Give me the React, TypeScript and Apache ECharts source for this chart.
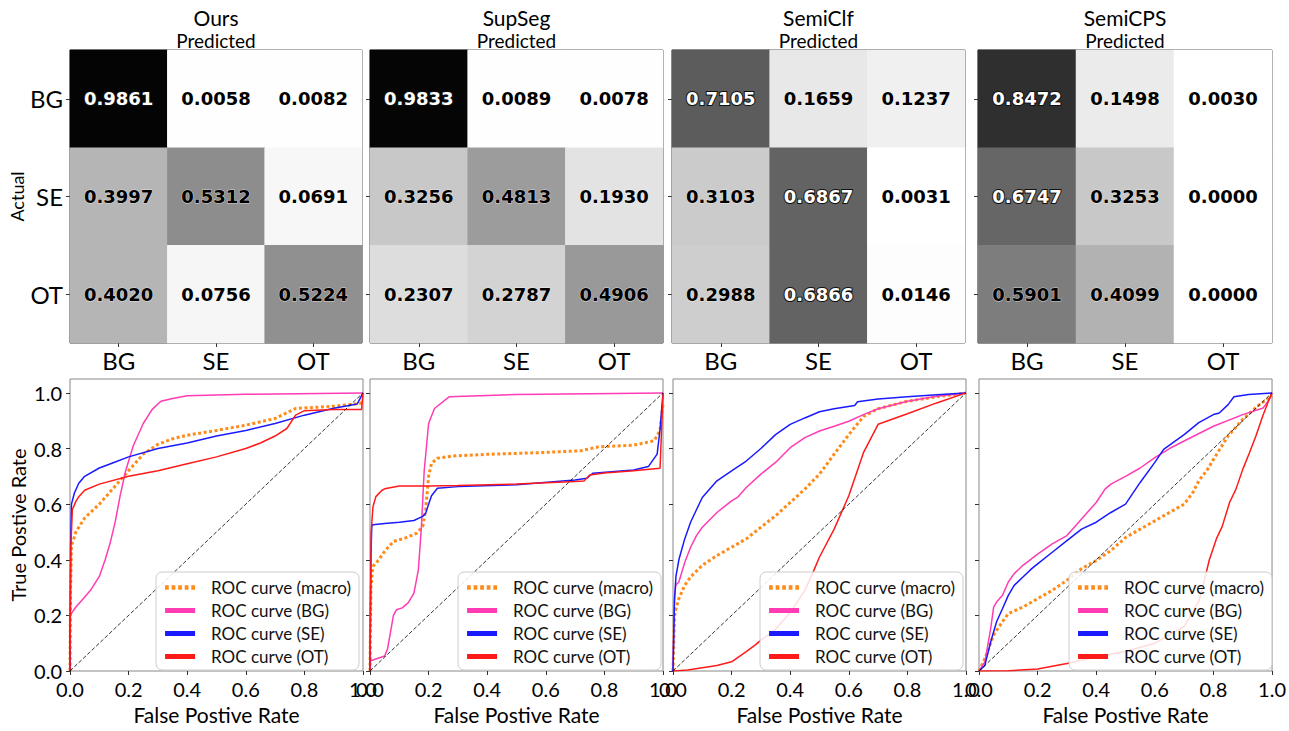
import React, { useEffect, useRef } from 'react';
import * as echarts from 'echarts';

const CLASSES = ['BG', 'SE', 'OT'];
const METHODS = ['Ours', 'SupSeg', 'SemiClf', 'SemiCPS'];

// Confusion matrices (rows: actual BG, SE, OT; columns: predicted BG, SE, OT)
const CM_OURS = [[0.9861, 0.0058, 0.0082], [0.3997, 0.5312, 0.0691], [0.4020, 0.0756, 0.5224]];
const CM_SUPSEG = [[0.9833, 0.0089, 0.0078], [0.3256, 0.4813, 0.1930], [0.2307, 0.2787, 0.4906]];
const CM_SEMICLF = [[0.7105, 0.1659, 0.1237], [0.3103, 0.6867, 0.0031], [0.2988, 0.6866, 0.0146]];
const CM_SEMICPS = [[0.8472, 0.1498, 0.0030], [0.6747, 0.3253, 0.0000], [0.5901, 0.4099, 0.0000]];

const ROC_NAMES = ['ROC curve (macro)', 'ROC curve (BG)', 'ROC curve (SE)', 'ROC curve (OT)'];
const Y_TICKS = [0, 0.2, 0.4, 0.6, 0.8, 1.0];

// ROC curves: [FPR, TPR]
const OURS_MACRO = [[0, 0], [0.002, 0.3], [0.005, 0.45], [0.02, 0.5], [0.05, 0.55], [0.1, 0.6], [0.15, 0.66], [0.2, 0.72], [0.25, 0.78], [0.3, 0.815], [0.35, 0.835], [0.4, 0.848], [0.5, 0.865], [0.6, 0.884], [0.7, 0.908], [0.77, 0.944], [0.9, 0.952], [0.99, 0.962], [1, 0.97]];
const OURS_BG = [[0, 0], [0, 0.2], [0.02, 0.23], [0.045, 0.26], [0.07, 0.29], [0.1, 0.34], [0.12, 0.4], [0.137, 0.46], [0.155, 0.54], [0.171, 0.63], [0.19, 0.72], [0.216, 0.81], [0.25, 0.89], [0.28, 0.94], [0.31, 0.97], [0.35, 0.98], [0.4, 0.99], [0.6, 0.995], [1, 1]];
const OURS_SE = [[0, 0], [0.002, 0.45], [0.005, 0.6], [0.015, 0.64], [0.03, 0.675], [0.05, 0.7], [0.1, 0.73], [0.15, 0.75], [0.2, 0.77], [0.3, 0.8], [0.4, 0.82], [0.5, 0.845], [0.6, 0.865], [0.7, 0.89], [0.8, 0.92], [0.9, 0.945], [0.98, 0.96], [1, 1]];
const OURS_OT = [[0, 0], [0.003, 0.45], [0.008, 0.58], [0.02, 0.61], [0.03, 0.627], [0.05, 0.65], [0.1, 0.672], [0.2, 0.7], [0.3, 0.72], [0.4, 0.745], [0.5, 0.77], [0.6, 0.8], [0.65, 0.82], [0.7, 0.845], [0.74, 0.872], [0.77, 0.92], [0.8, 0.936], [0.9, 0.94], [0.995, 0.94], [1, 1]];

const SUPSEG_MACRO = [[0, 0], [0.003, 0.3], [0.01, 0.376], [0.03, 0.4], [0.05, 0.43], [0.08, 0.466], [0.12, 0.478], [0.16, 0.496], [0.18, 0.52], [0.19, 0.58], [0.2, 0.7], [0.21, 0.747], [0.23, 0.765], [0.28, 0.773], [0.4, 0.779], [0.6, 0.786], [0.72, 0.792], [0.78, 0.806], [0.9, 0.812], [0.97, 0.828], [0.99, 0.866], [1, 0.96]];
const SUPSEG_BG = [[0, 0], [0, 0.036], [0.05, 0.054], [0.06, 0.08], [0.07, 0.14], [0.08, 0.2], [0.09, 0.22], [0.11, 0.227], [0.13, 0.245], [0.15, 0.28], [0.165, 0.364], [0.175, 0.51], [0.185, 0.72], [0.2, 0.89], [0.22, 0.944], [0.27, 0.986], [0.5, 0.994], [1, 1]];
const SUPSEG_SE = [[0, 0], [0.003, 0.4], [0.006, 0.52], [0.01, 0.526], [0.05, 0.53], [0.1, 0.535], [0.15, 0.541], [0.18, 0.556], [0.19, 0.567], [0.2, 0.6], [0.21, 0.63], [0.23, 0.657], [0.3, 0.663], [0.5, 0.67], [0.7, 0.687], [0.74, 0.693], [0.76, 0.711], [0.9, 0.723], [0.95, 0.735], [0.98, 0.78], [0.99, 0.87], [1, 1]];
const SUPSEG_OT = [[0, 0], [0.004, 0.5], [0.01, 0.59], [0.02, 0.627], [0.04, 0.649], [0.05, 0.655], [0.1, 0.665], [0.2, 0.665], [0.3, 0.667], [0.5, 0.672], [0.7, 0.681], [0.73, 0.683], [0.75, 0.705], [0.8, 0.712], [0.9, 0.72], [0.99, 0.729], [1, 1]];

const SEMICLF_MACRO = [[0, 0], [0.005, 0.195], [0.01, 0.224], [0.02, 0.26], [0.04, 0.308], [0.06, 0.338], [0.1, 0.38], [0.15, 0.415], [0.2, 0.445], [0.25, 0.475], [0.3, 0.517], [0.35, 0.558], [0.4, 0.606], [0.45, 0.654], [0.5, 0.708], [0.55, 0.78], [0.6, 0.85], [0.65, 0.915], [0.7, 0.943], [0.8, 0.97], [0.9, 0.986], [1, 1]];
const SEMICLF_BG = [[0, 0], [0.005, 0.27], [0.01, 0.31], [0.02, 0.32], [0.04, 0.39], [0.06, 0.445], [0.08, 0.487], [0.1, 0.517], [0.15, 0.57], [0.2, 0.612], [0.22, 0.624], [0.25, 0.66], [0.3, 0.708], [0.35, 0.75], [0.4, 0.803], [0.45, 0.839], [0.5, 0.863], [0.55, 0.88], [0.6, 0.898], [0.65, 0.922], [0.7, 0.943], [0.8, 0.97], [0.9, 0.988], [1, 1]];
const SEMICLF_SE = [[0, 0], [0.005, 0.25], [0.01, 0.34], [0.02, 0.4], [0.04, 0.475], [0.06, 0.535], [0.08, 0.58], [0.1, 0.624], [0.15, 0.684], [0.2, 0.72], [0.25, 0.755], [0.3, 0.8], [0.35, 0.85], [0.4, 0.887], [0.45, 0.91], [0.5, 0.932], [0.55, 0.943], [0.62, 0.955], [0.63, 0.968], [0.7, 0.978], [0.8, 0.986], [0.9, 0.993], [1, 1]];
const SEMICLF_OT = [[0, 0], [0.05, 0.004], [0.1, 0.012], [0.15, 0.02], [0.2, 0.033], [0.25, 0.07], [0.28, 0.093], [0.3, 0.111], [0.35, 0.15], [0.4, 0.21], [0.45, 0.29], [0.48, 0.36], [0.5, 0.41], [0.55, 0.51], [0.6, 0.63], [0.65, 0.785], [0.7, 0.887], [0.8, 0.925], [0.9, 0.964], [1, 1]];

const SEMICPS_MACRO = [[0, 0], [0.02, 0.045], [0.05, 0.13], [0.08, 0.177], [0.1, 0.206], [0.15, 0.23], [0.2, 0.26], [0.25, 0.29], [0.3, 0.326], [0.35, 0.368], [0.4, 0.397], [0.45, 0.433], [0.5, 0.48], [0.55, 0.51], [0.6, 0.54], [0.65, 0.57], [0.7, 0.6], [0.73, 0.642], [0.75, 0.684], [0.78, 0.725], [0.8, 0.761], [0.85, 0.845], [0.9, 0.905], [0.95, 0.952], [1, 0.99]];
const SEMICPS_BG = [[0, 0], [0.02, 0.033], [0.04, 0.153], [0.05, 0.23], [0.06, 0.248], [0.08, 0.272], [0.1, 0.32], [0.12, 0.35], [0.15, 0.38], [0.2, 0.42], [0.25, 0.457], [0.3, 0.487], [0.35, 0.547], [0.4, 0.606], [0.43, 0.654], [0.45, 0.672], [0.5, 0.7], [0.55, 0.73], [0.6, 0.767], [0.65, 0.8], [0.7, 0.827], [0.8, 0.88], [0.9, 0.922], [0.97, 0.946], [0.99, 0.976], [1, 1]];
const SEMICPS_SE = [[0, 0], [0.02, 0.02], [0.04, 0.105], [0.06, 0.177], [0.08, 0.224], [0.1, 0.272], [0.12, 0.308], [0.15, 0.338], [0.18, 0.368], [0.2, 0.385], [0.25, 0.427], [0.3, 0.469], [0.35, 0.51], [0.4, 0.535], [0.45, 0.57], [0.5, 0.6], [0.55, 0.678], [0.6, 0.75], [0.63, 0.797], [0.7, 0.85], [0.75, 0.893], [0.8, 0.922], [0.82, 0.928], [0.85, 0.958], [0.87, 0.986], [0.92, 0.994], [1, 1]];
const SEMICPS_OT = [[0, 0], [0.1, 0.001], [0.2, 0.007], [0.3, 0.027], [0.4, 0.05], [0.5, 0.07], [0.6, 0.1], [0.7, 0.16], [0.75, 0.25], [0.77, 0.33], [0.786, 0.4], [0.81, 0.475], [0.83, 0.52], [0.855, 0.606], [0.877, 0.654], [0.9, 0.725], [0.923, 0.785], [0.945, 0.845], [0.968, 0.916], [0.99, 0.976], [1, 1]];

const MATRICES = [CM_OURS, CM_SUPSEG, CM_SEMICLF, CM_SEMICPS];
const CURVES = [
  [OURS_MACRO, OURS_BG, OURS_SE, OURS_OT],
  [SUPSEG_MACRO, SUPSEG_BG, SUPSEG_SE, SUPSEG_OT],
  [SEMICLF_MACRO, SEMICLF_BG, SEMICLF_SE, SEMICLF_OT],
  [SEMICPS_MACRO, SEMICPS_BG, SEMICPS_SE, SEMICPS_OT],
];
const DIAGONAL = [[0, 0], [1, 1]];

const FONT = 'Lato';
const GREYS = ['#ffffff', '#f0f0f0', '#d9d9d9', '#bdbdbd', '#969696', '#737373', '#525252', '#252525', '#000000'];
const CURVE_COLORS = ['#ff8c1a', '#ff3cb4', '#1a1aff', '#ff1a1a'];
const HM_GRIDS = [
  { left: 70, top: 50, width: 292, height: 293 },
  { left: 370, top: 50, width: 293, height: 293 },
  { left: 672, top: 50, width: 293, height: 293 },
  { left: 978, top: 50, width: 294, height: 293 },
];
const ROC_GRIDS = [
  { left: 70, top: 379, width: 293, height: 292 },
  { left: 370, top: 379, width: 293, height: 292 },
  { left: 673, top: 379, width: 293, height: 292 },
  { left: 979, top: 379, width: 294, height: 292 },
];
const LEGEND_RIGHT = [930, 628, 326, 17];
const DOTS_ICON = 'path://M0,0h4v5h-4zM7,0h4v5h-4zM14,0h4v5h-4zM21,0h4v5h-4zM28,0h4v5h-4z';

export default function App() {
  const ref = useRef<HTMLDivElement>(null);
  useEffect(() => {
    if (!ref.current) return;
    const chart = echarts.init(ref.current, null, { renderer: 'svg' });
    const grid: any[] = [];
    const xAxis: any[] = [];
    const yAxis: any[] = [];
    const series: any[] = [];
    const legend: any[] = [];
    const graphic: any[] = [];

    MATRICES.forEach((cm, i) => {
      const g = HM_GRIDS[i];
      grid.push({ ...g, show: true, borderColor: '#333', borderWidth: 1, backgroundColor: 'transparent' });
      xAxis.push({
        type: 'category', gridIndex: i, data: CLASSES, position: 'bottom',
        axisLine: { show: false },
        axisTick: { show: true, alignWithLabel: true, length: 4, lineStyle: { color: '#333' } },
        axisLabel: { fontSize: 24, fontFamily: FONT, color: '#000', margin: 5 },
        splitLine: { show: false },
      });
      yAxis.push({
        type: 'category', gridIndex: i, data: CLASSES, inverse: true,
        axisLine: { show: false },
        axisTick: { show: true, alignWithLabel: true, length: 4, lineStyle: { color: '#333' } },
        axisLabel: { show: i === 0, fontSize: 24, fontFamily: FONT, color: '#000', margin: 7 },
        splitLine: { show: false },
        name: i === 0 ? 'Actual' : '', nameLocation: 'middle', nameGap: 44,
        nameTextStyle: { fontSize: 18, fontFamily: FONT, color: '#000' },
      });
      const data = cm.flatMap((row, r) => row.map((v, c) => ({
        value: [c, r, v],
        label: v >= 0.6
          ? { color: '#fff', textBorderColor: '#111', textBorderWidth: 2 }
          : { color: '#000', textBorderColor: 'rgba(255,255,255,0.6)', textBorderWidth: 1 },
      })));
      series.push({
        type: 'heatmap', xAxisIndex: i, yAxisIndex: i, data,
        label: {
          show: true, fontFamily: 'DejaVu Sans', fontWeight: 'bold', fontSize: 18,
          formatter: (p: any) => p.value[2].toFixed(4),
        },
      });
      const cx = g.left + g.width / 2;
      graphic.push({ type: 'text', x: cx, y: 17, style: { text: METHODS[i], textAlign: 'center', textVerticalAlign: 'middle', fontSize: 21, fontFamily: FONT, fill: '#000' } });
      graphic.push({ type: 'text', x: cx, y: 40, style: { text: 'Predicted', textAlign: 'center', textVerticalAlign: 'middle', fontSize: 19, fontFamily: FONT, fill: '#000' } });
    });

    CURVES.forEach((curves, i) => {
      const gi = i + 4;
      grid.push({ ...ROC_GRIDS[i], show: true, borderColor: '#888', borderWidth: 1, backgroundColor: 'transparent' });
      xAxis.push({
        type: 'value', gridIndex: gi, min: 0, max: 1, interval: 0.2,
        axisLine: { show: false },
        axisTick: { show: true, length: 4, lineStyle: { color: '#333' } },
        axisLabel: { fontSize: 20, fontFamily: FONT, color: '#000', margin: 8, formatter: (v: number) => v.toFixed(1) },
        splitLine: { show: false },
        name: 'False Postive Rate', nameLocation: 'middle', nameGap: 33,
        nameTextStyle: { fontSize: 21, fontFamily: FONT, color: '#000' },
      });
      yAxis.push({
        type: 'value', gridIndex: gi, min: 0, max: 1.05,
        axisLine: { show: false },
        axisTick: { show: true, length: 4, customValues: Y_TICKS, lineStyle: { color: '#333' } },
        axisLabel: { show: i === 0, customValues: Y_TICKS, fontSize: 20, fontFamily: FONT, color: '#000', margin: 8, formatter: (v: number) => v.toFixed(1) },
        splitLine: { show: false },
        name: i === 0 ? 'True Postive Rate' : '', nameLocation: 'middle', nameGap: 42,
        nameTextStyle: { fontSize: 20, fontFamily: FONT, color: '#000' },
      });
      curves.forEach((pts, k) => {
        series.push({
          type: 'line', name: ROC_NAMES[k], xAxisIndex: gi, yAxisIndex: gi, data: pts,
          symbol: 'none', showSymbol: false, smooth: false, clip: true,
          color: CURVE_COLORS[k],
          lineStyle: k === 0
            ? { color: CURVE_COLORS[k], width: 3, type: [3, 2.5] }
            : { color: CURVE_COLORS[k], width: 1.5 },
          z: 2 + k * 0.1,
        });
      });
      series.push({
        type: 'line', name: 'chance', xAxisIndex: gi, yAxisIndex: gi, data: DIAGONAL,
        symbol: 'none', showSymbol: false,
        lineStyle: { color: '#000', width: 0.8, type: [4, 2] }, z: 3,
      });
      legend.push({
        right: LEGEND_RIGHT[i], bottom: 61, orient: 'vertical', selectedMode: false,
        data: ROC_NAMES.map((n, k) => ({ name: n, icon: k === 0 ? DOTS_ICON : 'rect' })),
        itemWidth: 30, itemHeight: 5, itemGap: 6,
        padding: [7, 8, 5, 9],
        backgroundColor: 'rgba(255,255,255,0.85)', borderColor: '#ccc', borderWidth: 1, borderRadius: 6,
        textStyle: { fontSize: 17, fontFamily: FONT, color: '#111', padding: [0, 0, 0, 11] },
      });
    });

    chart.setOption({
      animation: false,
      backgroundColor: '#fff',
      grid, xAxis, yAxis, series, legend, graphic,
      visualMap: {
        type: 'continuous', show: false, min: 0, max: 1, dimension: 2,
        seriesIndex: [0, 1, 2, 3], inRange: { color: GREYS },
      },
    });
    return () => chart.dispose();
  }, []);
  return <div ref={ref} style={{ position: 'absolute', left: 0, top: 0, width: 1289, height: 731 }} />;
}
